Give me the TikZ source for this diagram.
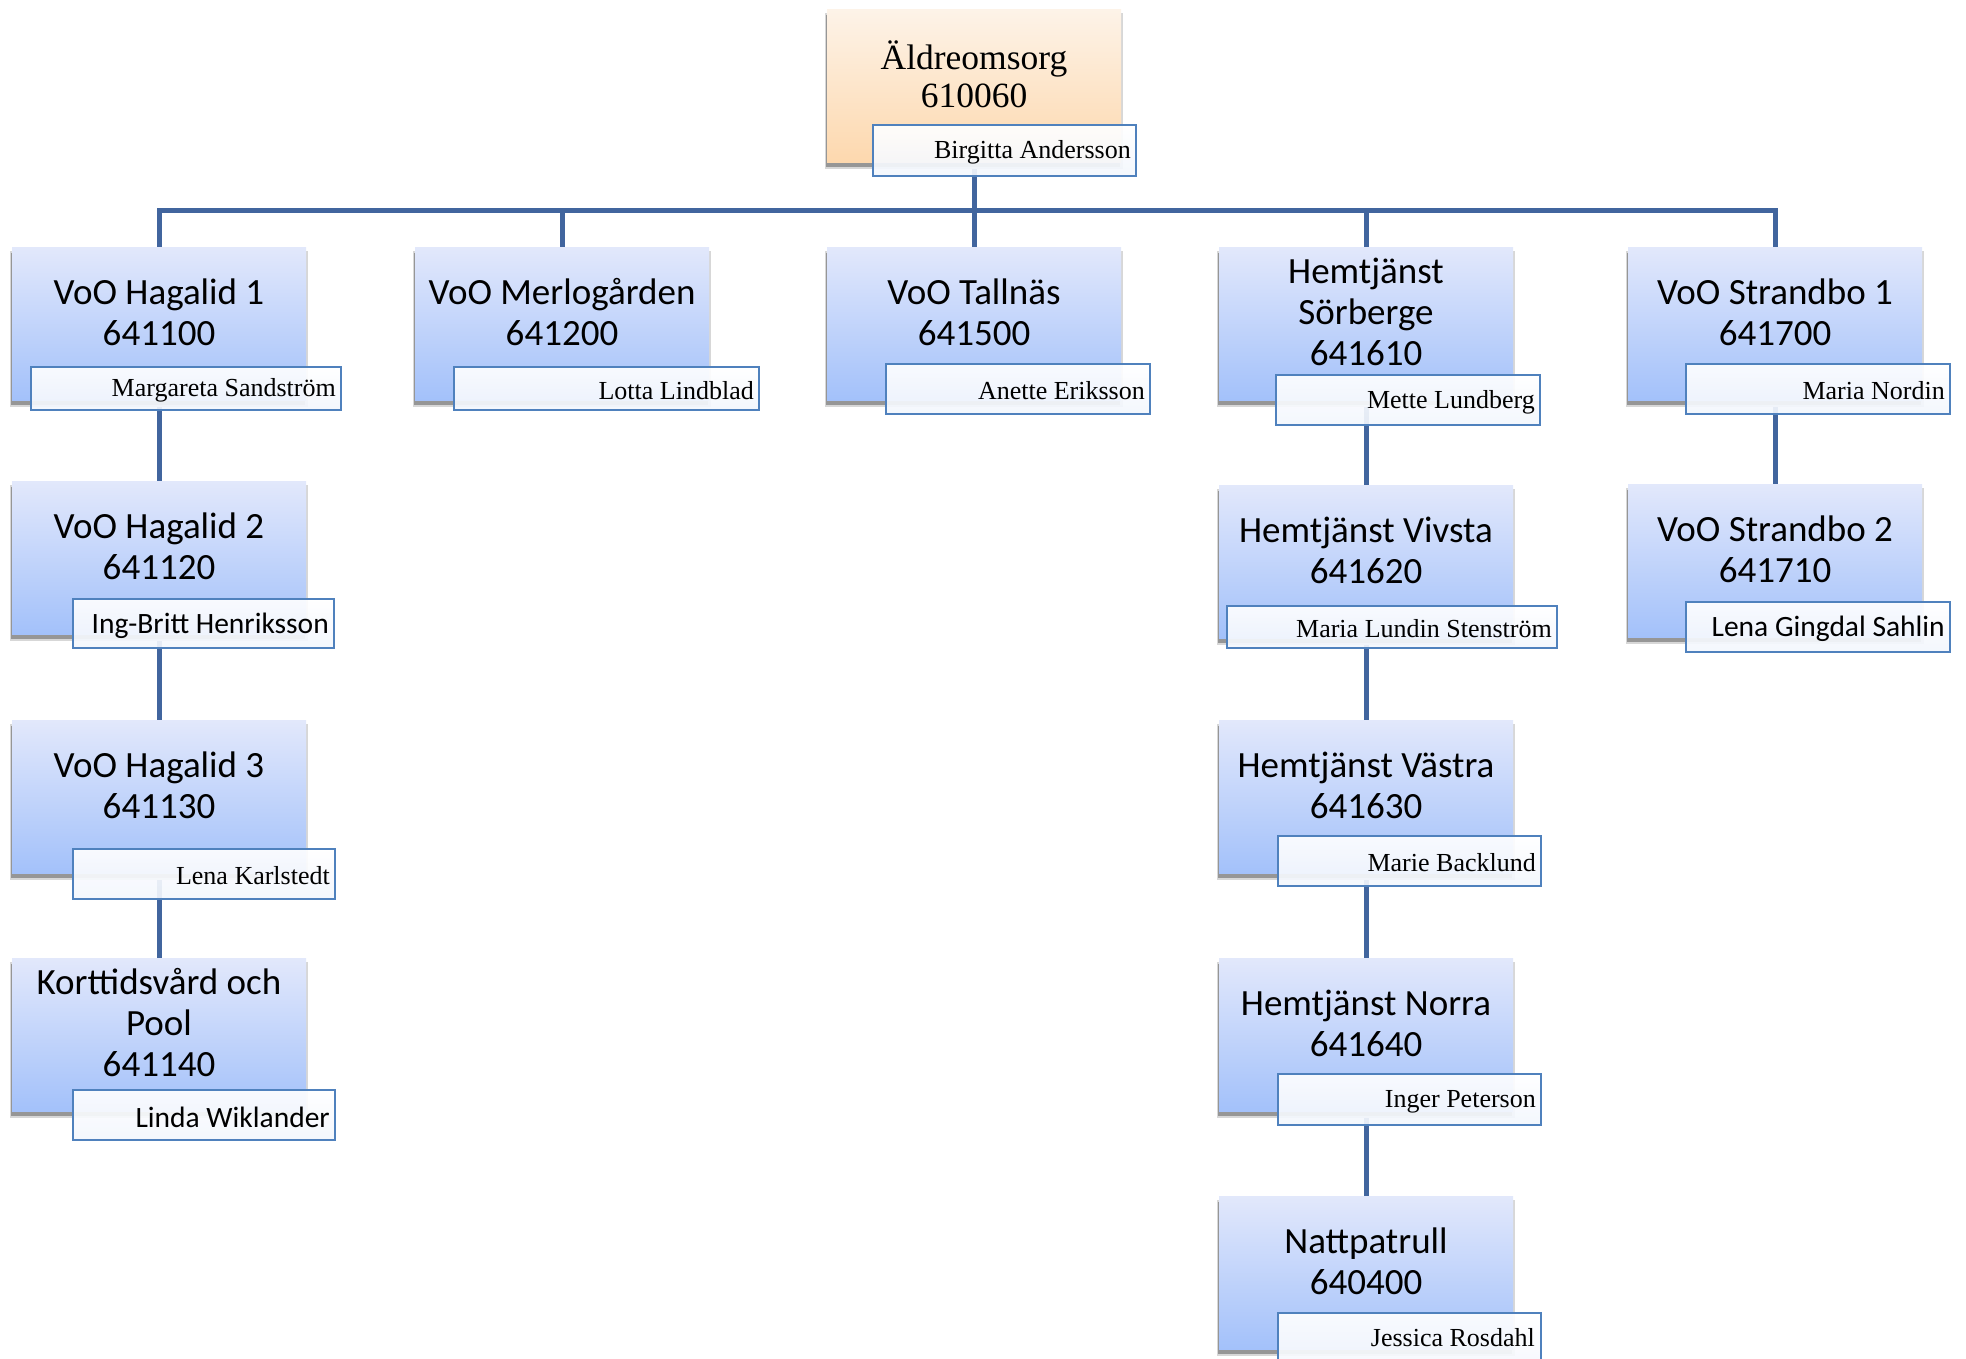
\documentclass[tikz,border=0pt]{standalone}
\usepackage{fontspec}
\setmainfont{Liberation Serif}
\newfontfamily\calib{Carlito}
\usetikzlibrary{fit,backgrounds}
\definecolor{connc}{RGB}{65,101,158}
\definecolor{nbord}{RGB}{79,129,189}
\definecolor{bluetop}{RGB}{226,232,251}
\definecolor{bluebot}{RGB}{163,193,250}
\definecolor{orgtop}{RGB}{253,243,232}
\definecolor{orgbot}{RGB}{253,216,174}
\definecolor{shadc}{RGB}{150,150,150}
\definecolor{shadl}{RGB}{215,215,215}
\definecolor{nbbot}{RGB}{242,246,253}
\tikzset{
 unitbox/.style={rectangle, minimum width=294pt, minimum height=153pt, inner sep=0pt, top color=bluetop, bottom color=bluebot, anchor=north},
 topbox/.style={unitbox, top color=orgtop, bottom color=orgbot},
 unittext/.style={font=\calib\fontsize{37}{41}\selectfont, align=center, inner sep=0pt},
 toptext/.style={font=\fontsize{35.5}{38}\selectfont, align=center, inner sep=0pt},
 namebox/.style={rectangle, draw=nbord, line width=2pt, top color=white, bottom color=nbbot, fill opacity=0.92, draw opacity=1, inner sep=0pt},
 serifname/.style={font=\fontsize{26}{30}\selectfont, anchor=east, inner sep=0pt},
 sansname/.style={font=\calib\fontsize{29.5}{33}\selectfont, anchor=east, inner sep=0pt},
 conn/.style={draw=connc, line width=5pt},
 shadbig/.style={fill=shadl},
 shadsmall/.style={fill=shadc},
}
\newcommand\boxshadow[2]{%
  \fill[shadbig] (#1-149,#2+4) rectangle (#1+149,#2+160);
  \fill[shadsmall] (#1-148,#2+6) rectangle (#1+146,#2+158);
}
\newcommand\ounit[4]{% name, cx, top, text
  \boxshadow{#2}{#3}
  \node[unitbox] (#1) at (#2,#3) {};
  \node[unittext] (#1t) at (#2,#3+65) {#4};
}
\newcommand\pname[7]{% style, name, left, right, top, bottom, text
  \node[namebox, fit={(#3,#5) (#4,#6)}] (#2) {};
  \node[#1] (#2t) at ([xshift=-6pt,yshift=-2pt]#2.east) {#7};
}
\begin{document}
\begin{tikzpicture}[x=1pt,y=-1pt]
\useasboundingbox (0,0) rectangle (1966,1358);
\clip (0,0) rectangle (1966,1358);
% top unit
\boxshadow{974}{9}
\node[topbox] (aeld) at (974,9) {};
\node[toptext] (aeldt) at (974,74) {Äldreomsorg\\610060};
\pname{serifname}{aeldn}{873}{1136}{125}{176}{Birgitta Andersson}
% row 1
\ounit{hag1}{159}{247}{VoO Hagalid 1\\641100}
\ounit{merl}{562}{247}{VoO Merlogården\\641200}
\ounit{tall}{974}{247}{VoO Tallnäs\\641500}
\ounit{sorb}{1366}{247}{Hemtjänst\\Sörberge\\641610}
\ounit{str1}{1775}{247}{VoO Strandbo 1\\641700}
\pname{serifname}{hag1n}{31}{341}{367}{410}{Margareta Sandström}
\pname{serifname}{merln}{454}{759}{367}{410}{Lotta Lindblad}
\pname{serifname}{talln}{886}{1150}{364}{414}{Anette Eriksson}
\pname{serifname}{sorbn}{1276}{1540}{375}{425}{Mette Lundberg}
\pname{serifname}{str1n}{1686}{1950}{364}{414}{Maria Nordin}
% column 1
\ounit{hag2}{159}{481}{VoO Hagalid 2\\641120}
\ounit{hag3}{159}{720}{VoO Hagalid 3\\641130}
\ounit{kort}{159}{958}{Korttidsvård och\\Pool\\641140}
\pname{sansname}{hag2n}{73}{334}{599}{648}{Ing-Britt Henriksson}
\pname{serifname}{hag3n}{73}{335}{849}{899}{Lena Karlstedt}
\pname{sansname}{kortn}{73}{335}{1090}{1140}{Linda Wiklander}
% column 4
\ounit{vivs}{1366}{485}{Hemtjänst Vivsta\\641620}
\ounit{vast}{1366}{720}{Hemtjänst Västra\\641630}
\ounit{norr}{1366}{958}{Hemtjänst Norra\\641640}
\ounit{natt}{1366}{1196}{Nattpatrull\\640400}
\pname{serifname}{vivsn}{1227}{1557}{606}{648}{Maria Lundin Stenström}
\pname{serifname}{vastn}{1278}{1541}{836}{886}{Marie Backlund}
\pname{serifname}{norrn}{1278}{1541}{1074}{1125}{Inger Peterson}
\node[namebox, fit={(1278,1313) (1541,1380)}] (nattn) {};
\node[serifname] (nattnt) at (1535,1338) {Jessica Rosdahl};
% column 5
\ounit{str2}{1775}{484}{VoO Strandbo 2\\641710}
\pname{sansname}{str2n}{1686}{1950}{602}{652}{Lena Gingdal Sahlin}
% connectors
\begin{pgfonlayer}{background}
\coordinate (bus) at (974,210);
\draw[conn] (aeld.south) -- (bus);
\draw[conn] (hag1.north) -- (hag1.north |- bus) -- (str1.north |- bus) -- (str1.north);
\draw[conn] (merl.north |- bus) -- (merl.north);
\draw[conn] (tall.north |- bus) -- (tall.north);
\draw[conn] (sorb.north |- bus) -- (sorb.north);
\draw[conn] (hag1.south) -- (hag2.north);
\draw[conn] (hag2.south) -- (hag3.north);
\draw[conn] (hag3.south) -- (kort.north);
\draw[conn] (sorb.south) -- (vivs.north);
\draw[conn] (vivs.south) -- (vast.north);
\draw[conn] (vast.south) -- (norr.north);
\draw[conn] (norr.south) -- (natt.north);
\draw[conn] (str1.south) -- (str2.north);
\end{pgfonlayer}
\end{tikzpicture}
\end{document}
